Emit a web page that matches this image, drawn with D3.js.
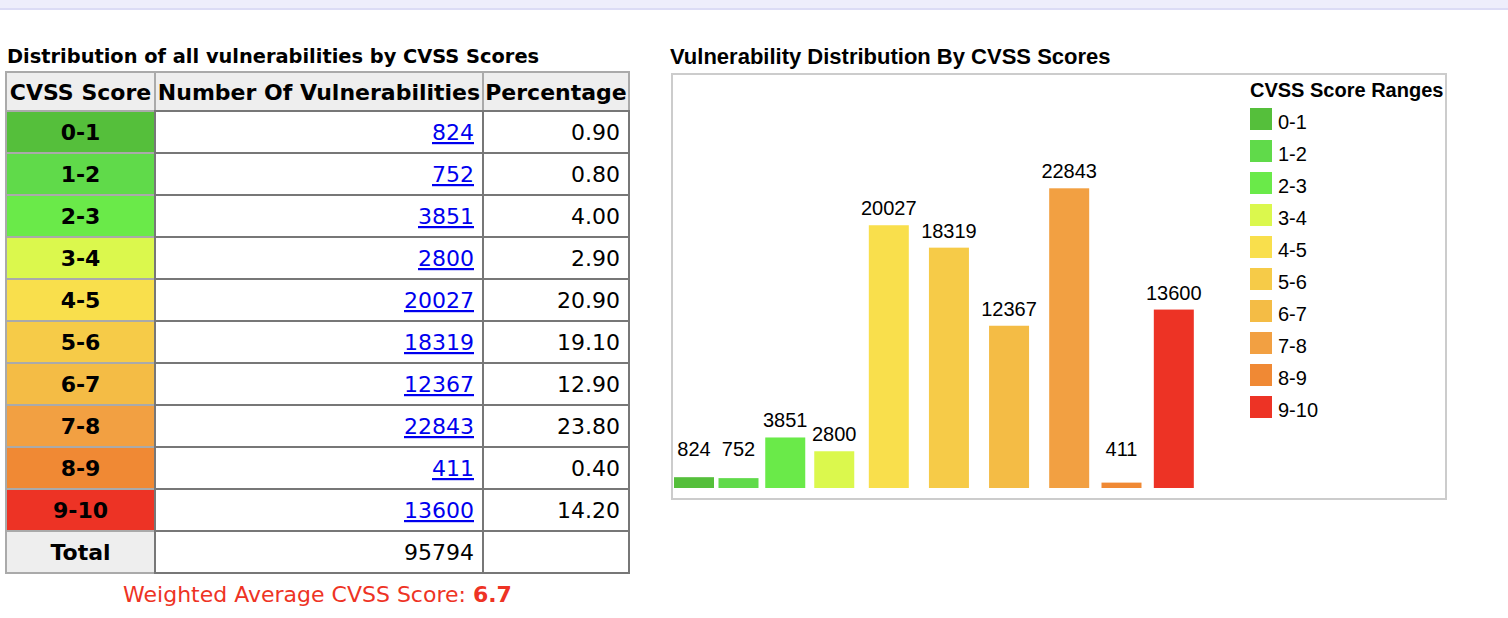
<!DOCTYPE html>
<html>
<head>
<meta charset="utf-8">
<script src="https://cdn.jsdelivr.net/npm/d3@7"></script>
<style>
  body { margin:0; background:#fff; }
  .tbl { font-family: "DejaVu Sans", Verdana, sans-serif; }
  .chart { font-family: "Liberation Sans", Arial, sans-serif; }
</style>
</head>
<body>
<svg id="page" width="1508" height="618"></svg>
<script>
// data
const ranges = ['0-1','1-2','2-3','3-4','4-5','5-6','6-7','7-8','8-9','9-10'];
const counts = [824, 752, 3851, 2800, 20027, 18319, 12367, 22843, 411, 13600];
const percents = ['0.90','0.80','4.00','2.90','20.90','19.10','12.90','23.80','0.40','14.20'];
const rangeColors = ['#55bf3b','#60da4a','#6aea49','#dbf84d','#f9df4c','#f6cb48','#f4bc45','#f2a042','#f08934','#ed3325'];
const headers = ['CVSS Score','Number Of Vulnerabilities','Percentage'];
const totalCount = 95794;
const weightedAvg = '6.7';

const svg = d3.select('#page');

// top band
svg.append('rect').attr('x',0).attr('y',0).attr('width',1508).attr('height',8).attr('fill','#eeeefb');
svg.append('rect').attr('x',0).attr('y',8).attr('width',1508).attr('height',2).attr('fill','#dcdcf5');

// ---------- table ----------
const tbl = svg.append('g').attr('class','tbl');

tbl.append('text')
    .attr('x', 7).attr('y', 63)
    .attr('font-size', 19.4).attr('font-weight','bold')
    .text('Distribution of all vulnerabilities by CVSS Scores');

const colEdges = [6, 155, 483, 629];
const headTop = 72, headH = 39;
const rowKeys = ranges.concat(['Total']);
const rowScale = d3.scaleBand().domain(rowKeys).range([headTop+headH, headTop+headH+42*rowKeys.length]);

// header
headers.forEach((h,i)=>{
    tbl.append('rect')
        .attr('x', colEdges[i]).attr('y', headTop)
        .attr('width', colEdges[i+1]-colEdges[i]).attr('height', headH)
        .attr('fill','#eeeeee').attr('stroke','#aaaaaa').attr('stroke-width',2);
    tbl.append('text')
        .attr('x', (colEdges[i]+colEdges[i+1])/2).attr('y', headTop+28)
        .attr('text-anchor','middle')
        .attr('font-size', 22).attr('font-weight','bold')
        .text(h);
});

// first column: colored score cells
const rowsG = tbl.selectAll('.row')
    .data(rowKeys)
    .enter().append('g')
    .attr('class','row')
    .attr('transform', d=>'translate(0,'+rowScale(d)+')');

rowsG.append('rect')
    .attr('x', colEdges[0]).attr('y', 0)
    .attr('width', colEdges[1]-colEdges[0]).attr('height', rowScale.bandwidth())
    .attr('fill', (d,i)=> i<ranges.length ? rangeColors[i] : '#eeeeee')
    .attr('stroke','#aaaaaa').attr('stroke-width',2);

rowsG.append('text')
    .attr('x', (colEdges[0]+colEdges[1])/2).attr('y', 29)
    .attr('text-anchor','middle')
    .attr('font-size', 22).attr('font-weight','bold')
    .text(d=>d);

// body cells
[1,2].forEach(c=>{
    rowsG.append('rect')
        .attr('x', colEdges[c]).attr('y', 0)
        .attr('width', colEdges[c+1]-colEdges[c]).attr('height', rowScale.bandwidth())
        .attr('fill','#fff').attr('stroke','#777777').attr('stroke-width',2);
});

rowsG.append('text')
    .attr('x', colEdges[2]-9).attr('y', 29)
    .attr('text-anchor','end')
    .attr('font-size', 22)
    .attr('fill', (d,i)=> i<ranges.length ? '#0000ee' : '#000')
    .attr('text-decoration', (d,i)=> i<ranges.length ? 'underline' : 'none')
    .text((d,i)=> i<ranges.length ? counts[i] : totalCount);

rowsG.append('text')
    .attr('x', colEdges[3]-9).attr('y', 29)
    .attr('text-anchor','end')
    .attr('font-size', 22)
    .text((d,i)=> i<ranges.length ? percents[i] : '');

const wa = tbl.append('text')
    .attr('x', (colEdges[0]+colEdges[3])/2).attr('y', 602)
    .attr('text-anchor','middle')
    .attr('font-size', 22)
    .attr('fill','#ee3324');
wa.append('tspan').text('Weighted Average CVSS Score: ');
wa.append('tspan').attr('font-weight','bold').text(weightedAvg);

// ---------- bar chart ----------
const ch = svg.append('g').attr('class','chart');

ch.append('text')
    .attr('x', 670).attr('y', 64)
    .attr('font-size', 22).attr('font-weight','bold')
    .text('Vulnerability Distribution By CVSS Scores');

ch.append('rect')
    .attr('x', 672).attr('y', 74).attr('width', 774).attr('height', 425)
    .attr('fill','#fff').attr('stroke','#cccccc').attr('stroke-width',2);

const baseY = 488;
const y = d3.scaleLinear().domain([0, 25000]).range([baseY, 160]);

// each bar sits in a cell as wide as its value label (or the bar, if wider)
const barW = 40, gap = 4.5, startX = 674;
const probe = ch.append('text').attr('font-size', 20);
const labelW = counts.map(v=>{ probe.text(v); return probe.node().getComputedTextLength(); });
probe.remove();
const centers = [];
let cur = startX;
labelW.forEach(w=>{
    const cw = Math.max(barW, w);
    centers.push(cur + cw/2);
    cur += cw + gap;
});
const x = d3.scaleOrdinal().domain(ranges).range(centers);
const color = d3.scaleOrdinal().domain(ranges).range(rangeColors);

ch.selectAll('.bar')
    .data(ranges)
    .enter().append('rect')
    .attr('class','bar')
    .attr('x', d=>x(d)-barW/2)
    .attr('width', barW)
    .attr('y', (d,i)=>y(counts[i]))
    .attr('height', (d,i)=>baseY-y(counts[i]))
    .attr('fill', d=>color(d));

ch.selectAll('.val')
    .data(ranges)
    .enter().append('text')
    .attr('class','val')
    .attr('x', d=>x(d))
    .attr('y', (d,i)=>Math.min(y(counts[i]), baseY-22) - 10)
    .attr('text-anchor','middle')
    .attr('font-size', 20)
    .text((d,i)=>counts[i]);

// legend
ch.append('text')
    .attr('x', 1250).attr('y', 97)
    .attr('font-size', 20).attr('font-weight','bold')
    .text('CVSS Score Ranges');

const lg = ch.selectAll('.lg')
    .data(ranges)
    .enter().append('g')
    .attr('class','lg')
    .attr('transform', (d,i)=>'translate(1250,'+(108+i*32)+')');
lg.append('rect').attr('width',22).attr('height',22).attr('fill', d=>color(d));
lg.append('text').attr('x',28).attr('y',21).attr('font-size',20).text(d=>d);
</script>
</body>
</html>
